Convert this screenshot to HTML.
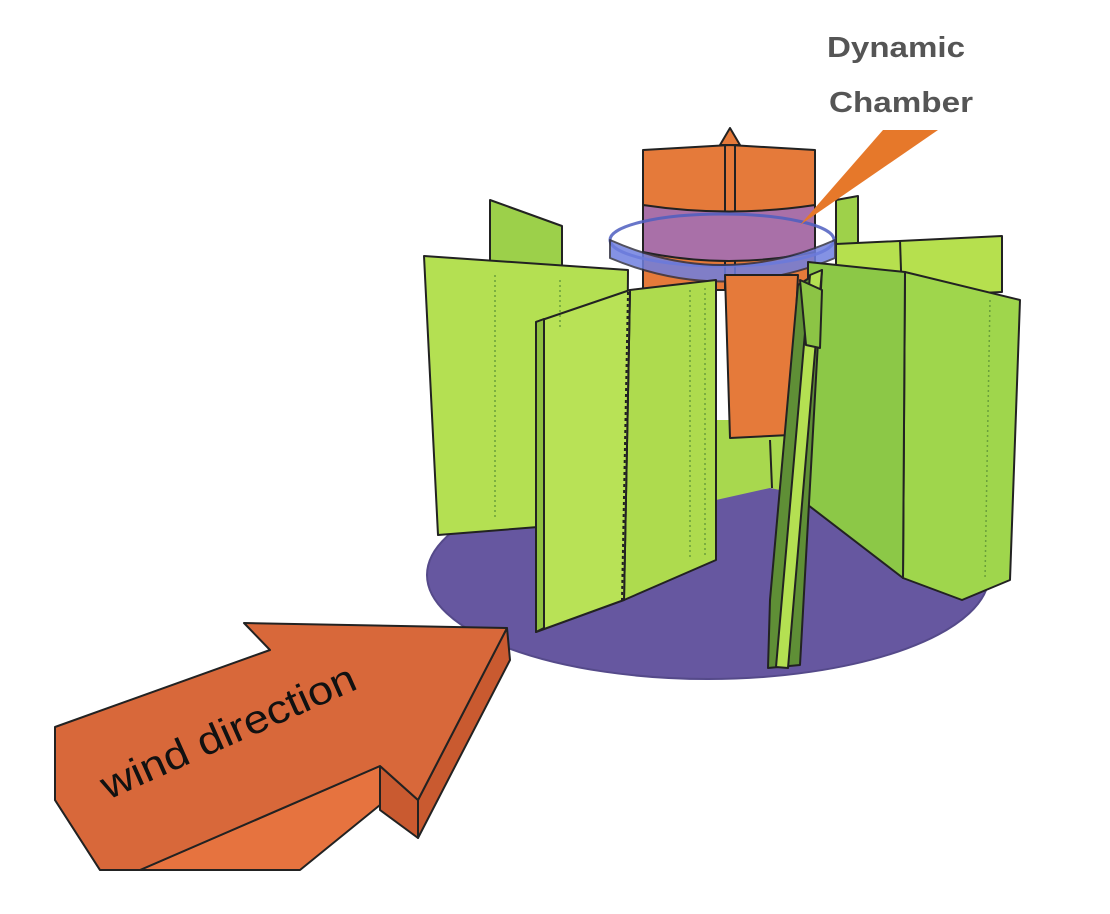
<!DOCTYPE html>
<html><head><meta charset="utf-8"><style>
html,body{margin:0;padding:0;background:#fff;width:1110px;height:914px;overflow:hidden}
svg{display:block}
</style></head><body>
<svg width="1110" height="914" viewBox="0 0 1110 914" xmlns="http://www.w3.org/2000/svg">
<g stroke="#222" stroke-width="2" stroke-linejoin="round">
<!-- base disc -->
<ellipse cx="708" cy="575" rx="281" ry="104" fill="#6657a0" stroke="#554a8a"/>
<!-- back panels -->
<polygon points="836,200 858,196 858,300 836,300" fill="#9ed14a"/>
<polygon points="836,244 1002,236 1002,292 836,300" fill="#b6e04e"/>
<line x1="900" y1="240" x2="902" y2="300"/>
<polygon points="490,200 562,226 562,300 490,300" fill="#9cd04a"/>
<!-- green seen behind, under column -->
<polygon points="716,420 830,420 830,500 770,488 716,500" fill="#a8d84e" stroke="none"/>
<line x1="770" y1="440" x2="772" y2="488"/>
<!-- orange column top -->
<polygon points="643,150 730,145 815,150 815,290 643,290" fill="#e57a3a"/>
<polygon points="720,145 730,128 740,145" fill="#e57a3a"/>
<line x1="725" y1="145" x2="725" y2="290"/>
<line x1="735" y1="145" x2="735" y2="290"/>
<!-- purple band -->
<path d="M643,205 Q729,218 815,205 L815,252 Q729,270 643,252 Z" fill="#a970a8"/>
<!-- ring -->
<ellipse cx="722" cy="240" rx="112" ry="26" fill="none" stroke="#4d5ec0" stroke-width="3" opacity="0.85"/>
<path d="M610,240 Q722,290 835,240 L835,258 Q722,305 610,258 Z" fill="#6f7fe0" opacity="0.85" stroke="#334"/>
<!-- lower orange -->
<polygon points="725,275 798,275 790,435 730,438" fill="#e57a3a"/>
<!-- left big panel -->
<polygon points="424,256 628,270 626,520 438,535" fill="#b4e052"/>
<!-- front-middle panel -->
<polygon points="630,290 716,280 716,560 624,600" fill="#aedb4e"/>
<polygon points="536,322 630,290 624,600 536,632" fill="#b8e256"/>
<polygon points="536,322 544,319 544,628 536,632" fill="#8fc040"/>
<line x1="628" y1="292" x2="622" y2="600" stroke-dasharray="3 3"/>
<!-- right panels -->
<polygon points="905,272 1020,300 1010,580 962,600 903,578" fill="#9fd64c"/>
<polygon points="808,262 905,272 903,578 808,505" fill="#8cc847"/>
<!-- dark front-right panel -->
<polygon points="798,285 822,270 800,665 768,668 770,600" fill="#5f8f36"/>
<polygon points="810,275 822,270 788,668 776,667" fill="#b4e052"/>
<polygon points="800,280 822,290 820,348 806,345" fill="#8cc445"/>
</g>
<!-- dotted hidden lines -->
<g stroke="#6aa03a" stroke-width="1.5" stroke-dasharray="2 3" fill="none">
<line x1="495" y1="275" x2="495" y2="520"/>
<line x1="560" y1="280" x2="560" y2="330"/>
<line x1="690" y1="290" x2="690" y2="560"/>
<line x1="705" y1="288" x2="705" y2="555"/>
<line x1="990" y1="300" x2="985" y2="580"/>
</g>
<!-- pointer -->
<polygon points="883,130 938,130 800,225" fill="#e6782a"/>
<!-- wind arrow -->
<g stroke="#222" stroke-width="2" stroke-linejoin="round">
<polygon points="140,870 380,766 380,805 300,870" fill="#e6733f"/>
<polygon points="380,766 418,800 418,838 380,810" fill="#c95a30"/>
<polygon points="418,800 507,628 510,660 418,838" fill="#c95a30"/>
<polygon points="55,800 100,870 140,870 55,790" fill="#c95a30"/>
<polygon points="55,727 270,650 244,623 507,628 418,800 380,766 140,870 100,870 55,800" fill="#d8683a"/>
</g>
<text x="0" y="0" transform="translate(108,800) rotate(-24)" font-family="'Liberation Sans',sans-serif" font-size="40" fill="#111" textLength="275" lengthAdjust="spacingAndGlyphs">wind direction</text>
<g font-family="'Liberation Sans',sans-serif" font-weight="bold" font-size="29" fill="#555">
<text x="827" y="57" textLength="138" lengthAdjust="spacingAndGlyphs">Dynamic</text>
<text x="829" y="112" textLength="144" lengthAdjust="spacingAndGlyphs">Chamber</text>
</g>
</svg>
</body></html>
